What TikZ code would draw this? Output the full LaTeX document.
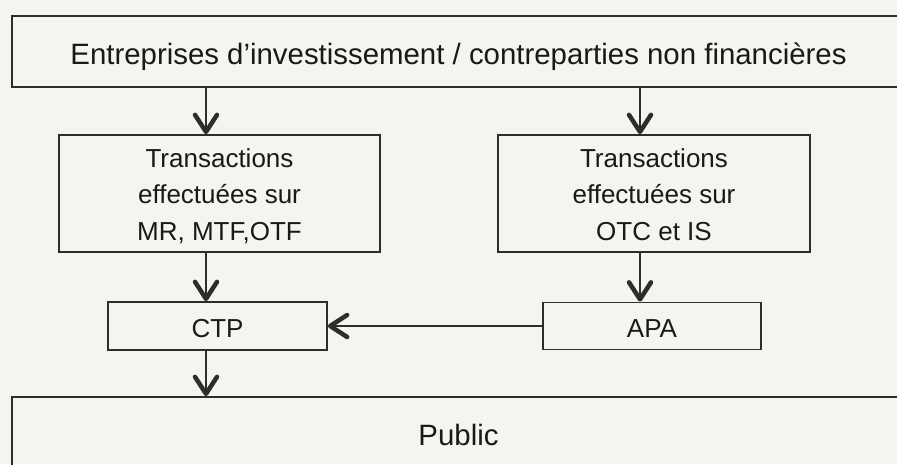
\documentclass[tikz,border=0pt]{standalone}
\usepackage{fontspec}
\setmainfont{Liberation Sans}
\usetikzlibrary{arrows.meta}
\definecolor{bg}{RGB}{245,244,239}
\definecolor{ink}{RGB}{45,45,45}
\newcommand{\topstrut}{\rule{0pt}{26pt}}
\newcommand{\botstrut}{\rule[-6pt]{0pt}{6pt}}
\tikzset{
  box/.style={draw=ink, line width=1.8pt, inner sep=0pt, text=black!90, align=center},
  arr/.style={draw=ink, line width=1.8pt, -{Straight Barb[length=17pt,width=22pt,line width=4.5pt,round]}},
  midfont/.style={font=\fontsize{26}{36.5}\selectfont},
  bigfont/.style={font=\fontsize{29.4}{34}\selectfont},
}
\begin{document}
\begin{tikzpicture}[x=1pt,y=-1pt]
\clip (0,0) rectangle (897,464);
\fill[bg] (0,0) rectangle (897,464);
\node[box, bigfont, minimum width=893pt, minimum height=71pt, text height=26pt, text depth=0pt] (top) at (458.5,51.5) {Entreprises d’investissement / contreparties non financières};
\node[box, midfont, minimum width=321pt, minimum height=117pt] (left) at (219.5,193.5) {\topstrut Transactions\\effectuées sur\\MR, MTF,OTF\botstrut};
\node[box, midfont, minimum width=312pt, minimum height=117pt] (right) at (654,193.5) {\topstrut Transactions\\effectuées sur\\OTC et IS\botstrut};
\node[box, midfont, minimum width=219pt, minimum height=48pt, text height=23pt, text depth=0pt] (ctp) at (217.5,326) {CTP};
\node[box, midfont, minimum width=218pt, minimum height=47pt, text height=23pt, text depth=0pt] (apa) at (652,326) {APA};
\node[box, bigfont, minimum width=893pt, minimum height=76pt, text height=20pt, text depth=0pt] (pub) at (458.5,435) {Public};
\coordinate (xl) at (206,0);
\coordinate (xr) at (640,0);
\draw[arr] (top.south -| xl) -- (left.north -| xl);
\draw[arr] (top.south -| xr) -- (right.north -| xr);
\draw[arr] (left.south -| xl) -- (ctp.north -| xl);
\draw[arr] (right.south -| xr) -- (apa.north -| xr);
\draw[arr] (apa.west) -- (ctp.east);
\draw[arr] (ctp.south -| xl) -- (pub.north -| xl);
\end{tikzpicture}
\end{document}
